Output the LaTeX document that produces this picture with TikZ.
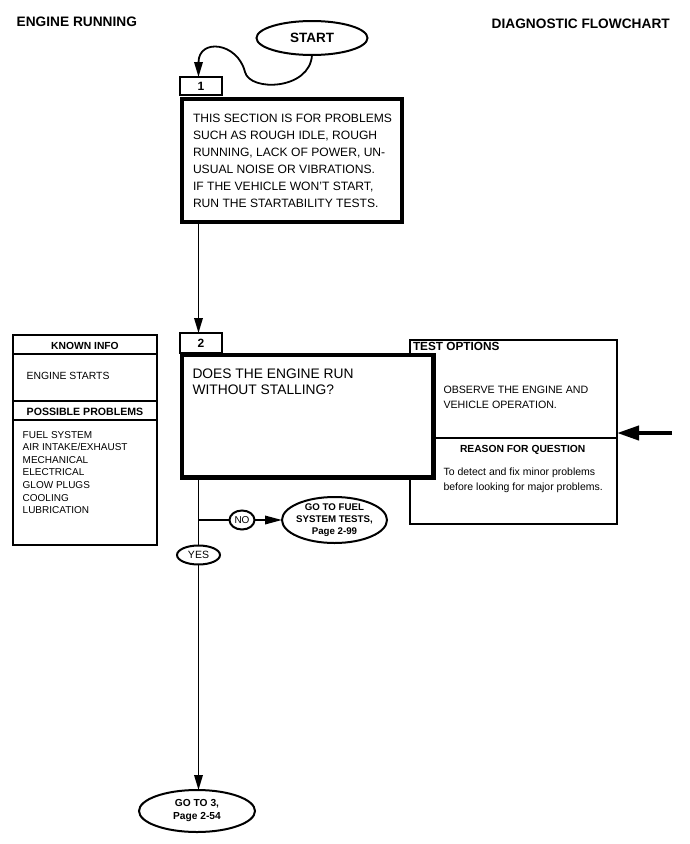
\documentclass[tikz,border=0pt]{standalone}
\usepackage{fontspec}
\setmainfont{Liberation Sans}
\usetikzlibrary{arrows.meta,shapes.geometric}
\begin{document}
\begin{tikzpicture}[x=1pt,y=-1pt,
  txt/.style={inner sep=0pt, outer sep=0pt, anchor=base west, align=left},
  thinbox/.style={draw, line width=1.6pt, inner sep=0pt, outer sep=0pt, anchor=north west, fill=white},
  thickbox/.style={draw, line width=4.2pt, inner sep=0pt, outer sep=0pt, anchor=north west, fill=white},
  labelbox/.style={draw, line width=1.6pt, fill=white, inner sep=0pt, outer sep=0pt, minimum width=42pt, minimum height=19pt, anchor=north west, font=\bfseries\fontsize{12}{13}\selectfont},
  oval/.style={draw, ellipse, line width=2pt, inner sep=0pt, outer sep=0pt, fill=white},
  ovaltext/.style={inner sep=0pt, align=center},
  arr/.style={line width=1.8pt, -{Triangle[length=15pt,width=8.5pt]}},
  ]
\useasboundingbox (0,0) rectangle (690,844);

% headers
\node[txt, font=\bfseries\fontsize{13.7}{15}\selectfont] (h1) at (16.7,26.7) {ENGINE RUNNING};
\node[txt, font=\bfseries\fontsize{13.7}{15}\selectfont] (h2) at (491.7,28) {DIAGNOSTIC FLOWCHART};

% start
\node[oval, minimum width=111pt, minimum height=34pt] (start) at (312,38) {};
\node[ovaltext, font=\bfseries\fontsize{13.5}{15}\selectfont] (starttxt) at (start) {START};

% box 1
\node[labelbox, minimum height=18pt] (lab1) at (180,77) {1};
\node[thickbox, minimum width=220pt, minimum height=123pt] (b1) at (182,99) {};
\node[txt, font=\fontsize{12.1}{17}\selectfont] (b1txt) at (193,207) {THIS SECTION IS FOR PROBLEMS\\SUCH AS ROUGH IDLE, ROUGH\\RUNNING, LACK OF POWER, UN-\\USUAL NOISE OR VIBRATIONS.\\IF THE VEHICLE WON'T START,\\RUN THE STARTABILITY TESTS.};

\draw[arr] (start.south) .. controls (310,90) and (250,92) .. (245,72)
  .. controls (237.5,42) and (198.5,38) .. (lab1.north -| 198.5,0);

\coordinate (vx) at (198.5,0);

% test options / reason
\node[thinbox, minimum width=207pt, minimum height=98pt] (topt) at (410,340) {};
\node[thinbox, minimum width=207pt, minimum height=86pt] (reason) at (410,438) {};
\node[txt, font=\bfseries\fontsize{11.8}{13}\selectfont] (topthdr) at (413,350) {TEST OPTIONS};
\node[txt, font=\fontsize{10.65}{15}\selectfont] (topttxt) at (443.5,408) {OBSERVE THE ENGINE AND\\VEHICLE OPERATION.};
\node[txt, font=\bfseries\fontsize{10.3}{12}\selectfont] (reasonhdr) at (460,452) {REASON FOR QUESTION};
\node[txt, font=\fontsize{10.5}{15}\selectfont] (reasontxt) at (443.5,490) {To detect and fix minor problems\\before looking for major problems.};

% box 2
\node[labelbox, minimum height=20pt] (lab2) at (180,333) {2};
\node[thickbox, minimum width=251.5pt, minimum height=122.5pt] (b2) at (182,355) {};
\node[txt, font=\fontsize{13.8}{16}\selectfont] (b2txt) at (192.5,394) {DOES THE ENGINE RUN\\WITHOUT STALLING?};

\draw[arr] (b1.south -| vx) -- (lab2.north -| vx);

% right arrow
\coordinate (rin) at (672,433);
\draw[line width=4pt, -{Triangle[length=22pt,width=14pt]}] (rin) -- ([yshift=5pt]topt.south east);

% known info
\node[thinbox, minimum width=144pt, minimum height=210pt] (known) at (13,335) {};
\draw[line width=1.6pt] (known.west |- 0,354) -- (known.east |- 0,354);
\draw[line width=1.6pt] (known.west |- 0,401) -- (known.east |- 0,401);
\draw[line width=1.6pt] (known.west |- 0,420) -- (known.east |- 0,420);
\node[inner sep=0pt, anchor=base, font=\bfseries\fontsize{10.3}{12}\selectfont] (knownhdr) at (85,349) {KNOWN INFO};
\node[txt, font=\fontsize{10.4}{12}\selectfont] (knowntxt) at (26.7,379) {ENGINE STARTS};
\node[inner sep=0pt, anchor=base, font=\bfseries\fontsize{10.6}{12}\selectfont] (posshdr) at (85,415) {POSSIBLE PROBLEMS};
\node[txt, font=\fontsize{10}{12.6}\selectfont] (posstxt) at (22.7,513.6) {FUEL SYSTEM\\AIR INTAKE/EXHAUST\\MECHANICAL\\ELECTRICAL\\GLOW PLUGS\\COOLING\\LUBRICATION};

% outcomes
\node[oval, minimum width=25pt, minimum height=19pt] (no) at (242,520) {};
\node[ovaltext, font=\fontsize{10}{12}\selectfont] (notxt) at (no) {NO};
\node[oval, minimum width=105pt, minimum height=46pt] (fuel) at (334.5,520) {};
\node[ovaltext, font=\bfseries\fontsize{9.7}{12}\selectfont] (fueltxt) at (fuel) {GO TO FUEL\\SYSTEM TESTS,\\Page 2-99};
\node[oval, minimum width=43pt, minimum height=19pt] (yes) at (198.5,555) {};
\node[ovaltext, font=\fontsize{10.5}{12}\selectfont] (yestxt) at (yes) {YES};
\node[oval, minimum width=116pt, minimum height=42pt] (endn) at (197,811) {};
\node[ovaltext, font=\bfseries\fontsize{10.2}{13}\selectfont] (endtxt) at (endn) {GO TO 3,\\Page 2-54};

\coordinate (br) at (198.5,520);
\draw[line width=1.8pt] (b2.south -| vx) -- (yes.north);
\draw[line width=1.8pt] (br) -- (no.west);
\draw[arr, -{Triangle[length=17pt,width=8.5pt]}] (no.east) -- (fuel.west);
\draw[arr] (yes.south) -- (endn.north -| vx);
\end{tikzpicture}
\end{document}
